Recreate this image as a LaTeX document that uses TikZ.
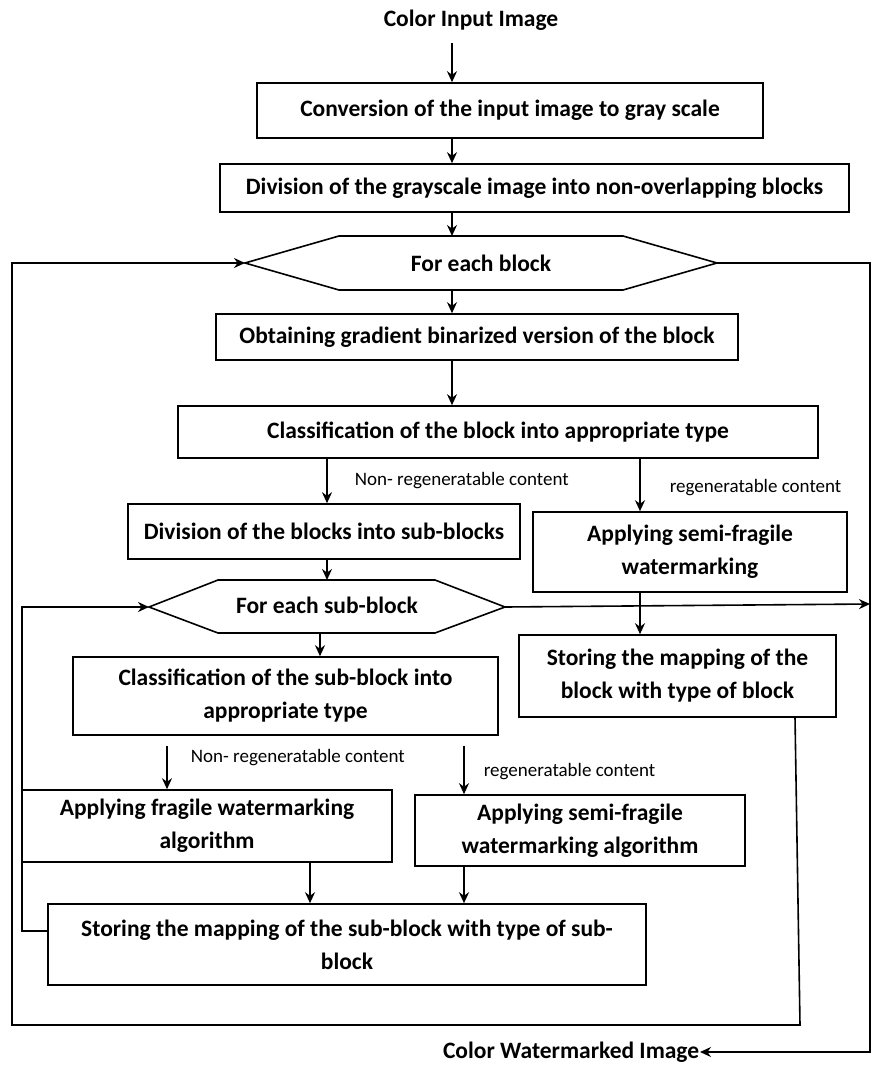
\documentclass[tikz,border=0pt]{standalone}
\usepackage{fontspec}
\setmainfont{Carlito}
\usetikzlibrary{arrows.meta}
\begin{document}
\begin{tikzpicture}[x=1pt,y=-1pt,line width=1.6pt,
  box/.style={draw,line width=1.6pt,font=\fontsize{23.5}{33}\selectfont\bfseries,align=center,inner sep=0pt},
  ttl/.style={font=\fontsize{23.5}{28}\selectfont\bfseries,inner sep=0pt},
  lbl/.style={font=\fontsize{19}{22}\selectfont,anchor=west,inner sep=0pt},
  arr/.style={-{Stealth[length=11pt,width=10pt]}},
  hex/.style={draw,line width=1.6pt}]
\useasboundingbox (0,0) rectangle (872,1073);
% titles
\node[ttl] (in) at (471,20) {Color Input Image};
\node[ttl,anchor=east] (out) at (700,1052) {Color Watermarked Image};
% boxes
\node[box,minimum width=506,minimum height=55] (b1) at (510,110.5) {Conversion of the input image to gray scale};
\node[box,minimum width=629,minimum height=48] (b2) at (534.5,188) {Division of the grayscale image into non-overlapping blocks};
\node[box,minimum width=522,minimum height=46] (b3) at (477,337) {Obtaining gradient binarized version of the block};
\node[box,minimum width=640,minimum height=52] (b4) at (498,432) {Classification of the block into appropriate type};
\node[box,minimum width=392,minimum height=55] (b5) at (324,531.5) {Division of the blocks into sub-blocks};
\node[box,minimum width=314,minimum height=80] (b6) at (690,552) {Applying semi-fragile\\watermarking};
\node[box,minimum width=317,minimum height=82] (b7) at (677.5,676) {Storing the mapping of the\\block with type of block};
\node[box,minimum width=425,minimum height=78] (b8) at (285.5,696) {Classification of the sub-block into\\appropriate type};
\node[box,minimum width=370,minimum height=72] (b9) at (207,826) {Applying fragile watermarking\\algorithm};
\node[box,minimum width=330,minimum height=71] (b10) at (580,830.5) {Applying semi-fragile\\watermarking algorithm};
\node[box,minimum width=598,minimum height=81] (b11) at (347,944.5) {Storing the mapping of the sub-block with type of sub-\\block};
% hexagons
\coordinate (h1w) at (245,263); \coordinate (h1e) at (717,263);
\coordinate (h1n) at (452,236); \coordinate (h1s) at (452,290);
\draw[hex] (h1w) -- (339,236) -- (623,236) -- (h1e) -- (623,290) -- (339,290) -- cycle;
\node[ttl] (h1) at (481,263) {For each block};
\coordinate (h2w) at (149,607); \coordinate (h2e) at (505,607);
\coordinate (h2n) at (327,580); \coordinate (h2s) at (320,633);
\draw[hex] (h2w) -- (218,580) -- (435,580) -- (h2e) -- (435,633) -- (218,633) -- cycle;
\node[ttl] (h2) at (327,605) {For each sub-block};
% labels
\node[lbl] (l1) at (354,481) {Non- regeneratable content};
\node[lbl] (l2) at (669,488) {regeneratable content};
\node[lbl] (l3) at (190,758) {Non- regeneratable content};
\node[lbl] (l4) at (483,772) {regeneratable content};
% helper x positions
\coordinate (ax) at (452,0);
\coordinate (cL) at (327,0);
\coordinate (cR) at (640,0);
\coordinate (c167) at (167,0);
\coordinate (c464) at (464,0);
\coordinate (c310) at (310,0);
% main trunk
\draw[arr,shorten <=12pt] (in.south -| ax) -- (b1.north -| ax);
\draw[arr] (b1.south -| ax) -- (b2.north -| ax);
\draw[arr] (b2.south -| ax) -- (h1n);
\draw[arr] (h1s) -- (b3.north -| ax);
\draw[arr] (b3.south -| ax) -- (b4.north -| ax);
\draw[arr] (b4.south -| cL) -- (b5.north -| cL);
\draw[arr] (b4.south -| cR) -- (b6.north -| cR);
\draw[arr] (b5.south -| cL) -- (h2n);
\draw[arr] (h2s) -- (b8.north -| h2s);
\draw[arr] (b6.south -| cR) -- (b7.north -| cR);
\draw[arr,shorten <=10pt] (b8.south -| c167) -- (b9.north -| c167);
\draw[arr,shorten <=10pt] (b8.south -| c464) -- (b10.north -| c464);
\draw[arr] (b9.south -| c310) -- (b11.north -| c310);
\draw[arr] (b10.south -| c464) -- (b11.north -| c464);
% loops
\coordinate (rt) at (870,263);
\coordinate (rb) at (870,1052);
\coordinate (lt) at (12,263);
\coordinate (lb) at (12,1025);
\coordinate (bb) at (800,1025);
\coordinate (s2) at (22,931);
\coordinate (s1) at (22,607);
\coordinate (b7o) at (795,717);
\draw[arr] (h2e) -- (870,604);
\draw[arr] (b11.west |- s2) -- (s2) -- (s1) -- (h2w);
\draw[arr] (b7o) -- (bb) -- (lb) -- (lt) -- (h1w);
\draw[arr] (h1e) -- (rt) -- (rb) -- (out.east);
\end{tikzpicture}
\end{document}
